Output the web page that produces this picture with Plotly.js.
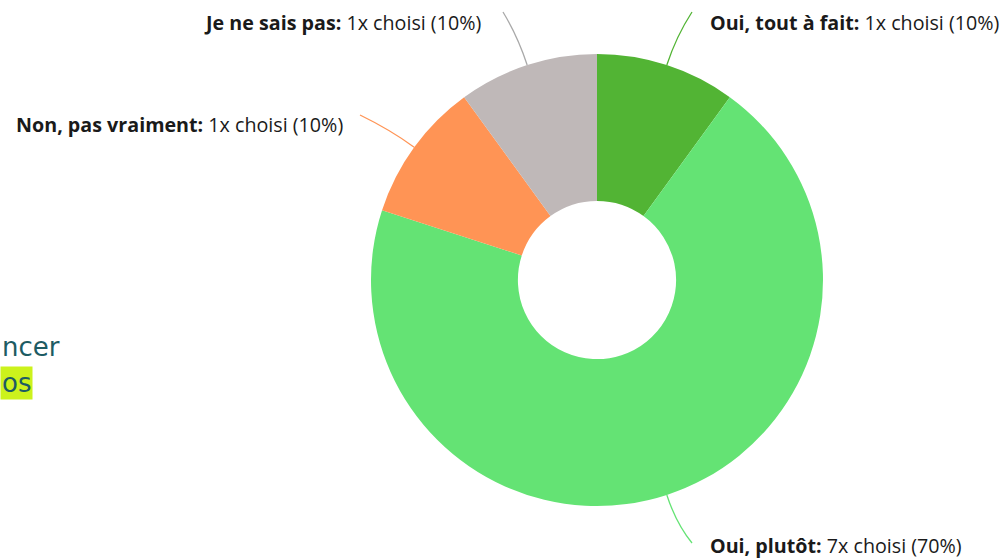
<!DOCTYPE html>
<html>
<head>
<meta charset="utf-8">
<script src="https://cdn.plot.ly/plotly-3.0.1.min.js"></script>
<style>html,body{margin:0;padding:0;background:#fff;}#chart{width:1004px;height:560px;}</style>
</head>
<body>
<div id="chart"></div>
<script>
// Data
const categories = ["Oui, tout à fait", "Oui, plutôt", "Non, pas vraiment", "Je ne sais pas"];
const counts = [1, 7, 1, 1];
const colors = ["#52b434", "#64e374", "#ff9455", "#bfb8b8"];
const lineColors = ["#52b434", "#64e374", "#ff9455", "#a9a9a9"];

// Layout constants (pixels)
const W = 1004, H = 560;
const cx = 597, cy = 280, R = 226;
const labelPos = [
  {lx: 692, ly: 12, tx: 708, ty: 22, anchor: "left"},
  {lx: 692, ly: 543, tx: 708, ty: 545, anchor: "left"},
  {lx: 360, ly: 115, tx: 345, ty: 124, anchor: "right"},
  {lx: 503, ly: 12, tx: 483, ty: 22, anchor: "right"}
];

const total = counts.reduce((a, b) => a + b, 0);

const pie = {
  type: "pie",
  values: counts,
  labels: categories,
  sort: false,
  direction: "clockwise",
  rotation: 0,
  hole: 0.35,
  textinfo: "none",
  marker: {colors: colors, line: {width: 0}},
  domain: {x: [(cx - R) / W, (cx + R) / W], y: [1 - (cy + R) / H, 1 - (cy - R) / H]},
  showlegend: false,
  hoverinfo: "label+value+percent"
};

const shapes = [];
const annotations = [];
let cum = 0;
counts.forEach((v, i) => {
  const mid = (cum + v / 2) / total * 2 * Math.PI;
  cum += v;
  const sx = cx + R * Math.sin(mid), sy = cy - R * Math.cos(mid);
  const kx = cx + (R + 30) * Math.sin(mid), ky = cy - (R + 30) * Math.cos(mid);
  const p = labelPos[i];
  shapes.push({
    type: "path", xref: "x", yref: "y",
    path: `M ${sx},${sy} Q ${kx},${ky} ${p.lx},${p.ly}`,
    line: {color: lineColors[i], width: 1.3}
  });
  const pct = Math.round(v / total * 100);
  annotations.push({
    xref: "x", yref: "y", x: p.tx, y: p.ty,
    xanchor: p.anchor, yanchor: "middle", showarrow: false,
    text: `<b>${categories[i]}:</b> ${v}x choisi (${pct}%)`,
    font: {family: "Open Sans", size: 19.7, color: "#1a1a1a"}
  });
});

// slide text on the left
annotations.push({
  xref: "x", yref: "y", x: 0, y: 347, xanchor: "left", yanchor: "middle",
  showarrow: false, text: "ncer",
  font: {family: "DejaVu Sans", size: 26, color: "#1d5b63"}
});
annotations.push({
  xref: "x", yref: "y", x: 0, y: 383, xanchor: "left", yanchor: "middle",
  showarrow: false, text: "os", bgcolor: "#ccf21c", borderpad: 1,
  font: {family: "DejaVu Sans", size: 26, color: "#1d5b63"}
});

const layout = {
  width: W, height: H,
  margin: {l: 0, r: 0, t: 0, b: 0},
  paper_bgcolor: "#ffffff", plot_bgcolor: "rgba(0,0,0,0)",
  xaxis: {range: [0, W], visible: false, fixedrange: true},
  yaxis: {range: [H, 0], visible: false, fixedrange: true},
  shapes: shapes,
  annotations: annotations,
  showlegend: false
};

Plotly.newPlot("chart", [pie], layout, {displayModeBar: false, staticPlot: true});
</script>
</body>
</html>
